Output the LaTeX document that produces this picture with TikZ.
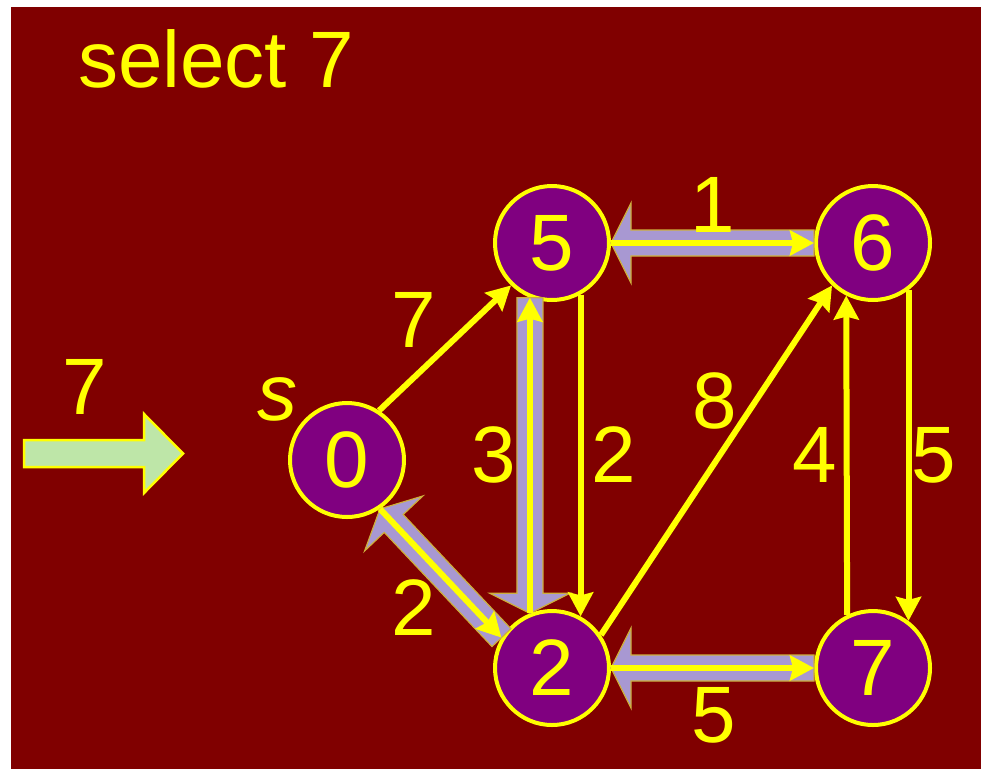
\documentclass[tikz,border=0pt]{standalone}
\usepackage{fontspec}
\setmainfont{Liberation Sans}
\usetikzlibrary{calc,arrows.meta}
\definecolor{bgred}{RGB}{128,0,0}
\definecolor{nodepurple}{RGB}{128,0,128}
\definecolor{ylw}{RGB}{255,255,0}
\definecolor{lav}{RGB}{168,152,210}
\definecolor{lavedge}{RGB}{205,175,60}
\definecolor{grn}{RGB}{190,230,168}
\newcommand\blockarrow[2]{%
  \path ($(#2)!20pt!(#1)$) coordinate (bah);
  \filldraw[lavarrow] ($(#1)!13pt!90:(#2)$) -- ($(bah)!13pt!90:(#2)$) -- ($(bah)!40pt!90:(#2)$) -- (#2) -- ($(bah)!40pt!-90:(#2)$) -- ($(bah)!13pt!-90:(#2)$) -- ($(#1)!13pt!-90:(#2)$) -- cycle;}
\begin{document}
\begin{tikzpicture}[x=1pt,y=-1pt,
  vtx/.style={circle, draw=ylw, fill=nodepurple, line width=4pt, minimum size=114pt, inner sep=0pt, text=ylw, font=\fontsize{80}{96}\selectfont},
  lbl/.style={text=ylw, font=\fontsize{80}{96}\selectfont, anchor=base, inner sep=0pt},
  yarr/.style={draw=ylw, line width=6pt, -{Stealth[length=24pt,width=25pt,inset=3pt]}},
  lavarrow/.style={fill=lav, draw=lavedge, line width=1.2pt, line join=miter},
  grnarrow/.style={fill=grn, draw=ylw, line width=2.5pt, line join=miter}]
\useasboundingbox (0,0) rectangle (981,769);
\fill[white] (0,0) rectangle (981,769);
\fill[bgred] (11,7) rectangle (981,769);

% title
\node[lbl, anchor=base west] (title) at (78,87) {select 7};

% green arrow with label
\draw[grnarrow] (24,440) -- (144,440) -- (144,414) -- (183,453.5) -- (144,493) -- (144,467) -- (24,467) -- cycle;
\node[lbl] (lseven) at (85,414) {7};

% vertices
\node[vtx] (n0) at (347,460) {0};
\node[vtx] (n5) at (552,243) {5};
\node[vtx] (n6) at (873,243) {6};
\node[vtx] (n2) at (552,668) {2};
\node[vtx] (n7) at (873,668) {7};
\node[lbl, font=\fontsize{80}{96}\selectfont\itshape] (slab) at (277,420) {s};

% highlighted (tree) block arrows
\blockarrow{n6.west}{n5.east}
\blockarrow{n7.west}{n2.east}
\blockarrow{n5.248}{n2.112}
\blockarrow{n2.149}{n0.304}

% yellow edges
\draw[yarr] (n0.57) -- (n5.226);
\draw[yarr] (n5.east) -- (n6.west);
\draw[yarr] (n2.east) -- (n7.west);
\draw[yarr] (n2.112) -- (n5.248);
\draw[yarr] (n5.-61.7) -- (n2.61.7);
\draw[yarr] (n0.304) -- (n2.149);
\draw[yarr] (n2.34) -- (n6.226);
\draw[yarr] (n7.116.1) -- (n6.243.9);
\draw[yarr] (n6.-53.6) -- (n7.53.6);

% edge labels
\node[lbl] (w05) at (414,347) {7};
\node[lbl] (w56) at (713,232) {1};
\node[lbl] (w25a) at (494,482) {3};
\node[lbl] (w52) at (614,482) {2};
\node[lbl] (w26) at (714.5,428) {8};
\node[lbl] (w76) at (815,482) {4};
\node[lbl] (w67) at (934,482) {5};
\node[lbl] (w02) at (414,635) {2};
\node[lbl] (w27) at (713.5,742) {5};
\end{tikzpicture}
\end{document}
